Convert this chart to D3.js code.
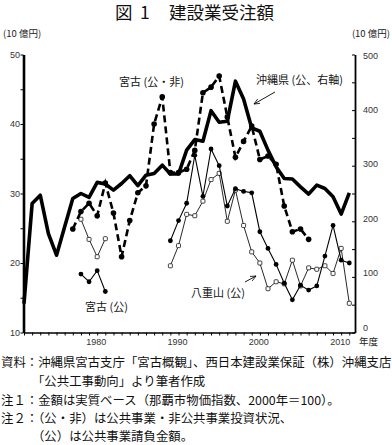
<!DOCTYPE html>
<html><head><meta charset="utf-8">
<script src="https://cdn.jsdelivr.net/npm/d3@7"></script>
<style>body{margin:0;background:#fff}svg{display:block}</style>
</head><body>
<svg id="c" width="392" height="445"></svg>
<script>
// ---------- data ----------
const years = [1971,1972,1973,1974,1975,1976,1977,1978,1979,1980,
  1981,1982,1983,1984,1985,1986,1987,1988,1989,1990,
  1991,1992,1993,1994,1995,1996,1997,1998,1999,2000,
  2001,2002,2003,2004,2005,2006,2007,2008,2009,2010,2011];
// 沖縄県（公、右軸）
const okinawaPublic = [52,232,247,178,139,190,241,250,243,270,
  267,256,268,282,264,283,286,301,285,285,
  328,347,344,399,378,380,452,420,368,362,
  328,298,277,276,262,249,265,259,244,213,251];
// 宮古（公・非）
const miyakoPublicNon = [null,null,null,null,null,null,24.9,27.4,28.6,26.8,
  31.5,27.2,20.9,26.1,30.1,31.1,40.0,43.9,33.0,33.0,
  33.5,36.2,44.5,45.3,46.9,41.0,35.2,37.5,39.7,34.9,
  35.4,34.2,28.2,24.5,24.9,23.4,null,null,null,null,null];
// 宮古（公）
const miyakoPublic = [null,null,null,null,null,null,null,18.4,17.3,18.9,
  15.9,null,null,null,null,null,null,null,23.2,26.1,
  28.6,35.5,29.6,36.4,34.0,28.2,30.7,30.3,30.1,24.5,
  22.1,19.8,17.1,14.7,16.8,16.1,16.7,21.0,25.4,20.4,20.0];
// 八重山（公）
const yaeyamaPublic = [null,null,null,null,null,null,null,26.3,23.4,20.9,
  23.5,null,null,null,null,null,null,null,19.6,22.5,
  27.0,26.8,28.9,32.0,32.9,26.0,30.5,25.4,21.6,20.0,
  16.3,17.3,17.0,20.4,16.7,19.3,19.1,19.6,18.5,22.1,14.2];
const leftTicks = [10,20,30,40,50];
const leftMinorTicks = [10,15,20,25,30,35,40,45,50];
const rightTicks = [0,100,200,300,400,500];
const rightMinorTicks = [0,50,100,150,200,250,300,350,400,450,500];
const xTickLabels = [1980,1990,2000,2010];
const notes = [
  "資料：沖縄県宮古支庁「宮古概観」、西日本建設業保証（株）沖縄支店",
  "　　　「公共工事動向」より筆者作成",
  "注１：金額は実質ベース（那覇市物価指数、2000年＝100）。",
  "注２：（公・非）は公共事業・非公共事業投資状況、",
  "　　　（公）は公共事業請負金額。"
];

// ---------- chart ----------
const svg = d3.select("#c");
const JP = "'Noto Sans CJK JP','Noto Sans',sans-serif";
const LAT = "'Liberation Sans',Arial,sans-serif";

const x = d3.scaleLinear().domain([1971, 2011.7]).range([24, 355]);
const yL = d3.scaleLinear().domain([10, 50]).range([332.5, 54.5]);
const yR = d3.scaleLinear().domain([0, 500]).range([332.5, 54.5]);
const yRlab = d3.scaleLinear().domain([0, 500]).range([330.5, 58.5]);

// title
svg.append("text").attr("x", 115).attr("y", 19).attr("font-family", JP)
  .attr("font-size", 17.5).attr("fill", "#111").text("図");
svg.append("text").attr("x", 140).attr("y", 19).attr("font-family", JP)
  .attr("font-size", 17.5).attr("fill", "#111").text("1");
svg.append("text").attr("x", 169).attr("y", 19).attr("font-family", JP)
  .attr("font-size", 17.5).attr("fill", "#111").text("建設業受注額");

// unit labels
svg.append("text").attr("x", 3).attr("y", 37).attr("font-family", JP)
  .attr("font-size", 9.5).attr("fill", "#222").text("(10 億円)");
svg.append("text").attr("x", 390).attr("y", 37).attr("text-anchor", "end").attr("font-family", JP)
  .attr("font-size", 9.5).attr("fill", "#222").text("(10 億円)");

// x axis
const xAxis = d3.axisBottom(x).tickValues(years).tickSize(3).tickSizeOuter(0).tickFormat("");
const gx = svg.append("g").attr("transform", `translate(0,${yL(10)})`).call(xAxis);
gx.select(".domain").attr("stroke", "#000").attr("stroke-width", 1.3);
gx.selectAll(".tick line").attr("stroke", "#000").attr("stroke-width", 1);
svg.append("g").selectAll("text").data(xTickLabels).join("text")
  .attr("x", d => x(d) - 1).attr("y", 344.5).attr("text-anchor", "middle")
  .attr("font-family", LAT).attr("font-size", 9).attr("fill", "#333").text(d => d);
svg.append("text").attr("x", 359).attr("y", 345).attr("font-family", JP)
  .attr("font-size", 9.5).attr("fill", "#222").text("年度");

// left axis
const gl = svg.append("g").attr("transform", `translate(${x(1971) - 0.5},0)`)
  .call(d3.axisLeft(yL).tickValues(leftMinorTicks).tickSize(3).tickSizeOuter(0).tickFormat(""));
gl.select(".domain").attr("stroke", "#000").attr("stroke-width", 2.6);
gl.selectAll(".tick line").attr("stroke", "#000").attr("stroke-width", 1);
svg.append("g").selectAll("text").data(leftTicks).join("text")
  .attr("x", 20).attr("y", d => yL(d) + 3).attr("text-anchor", "end")
  .attr("font-family", LAT).attr("font-size", 9).attr("fill", "#333").text(d => d);

// right axis
const gr = svg.append("g").attr("transform", `translate(${x(2011.7)},0)`)
  .call(d3.axisLeft(yR).tickValues(rightMinorTicks).tickSize(3).tickSizeOuter(0).tickFormat(""));
gr.select(".domain").attr("stroke", "#000").attr("stroke-width", 1.8);
gr.selectAll(".tick line").attr("stroke", "#000").attr("stroke-width", 1);
svg.append("g").selectAll("text").data(rightTicks).join("text")
  .attr("x", 363).attr("y", d => yRlab(d))
  .attr("font-family", LAT).attr("font-size", 9).attr("fill", "#333").text(d => d);

// helpers
const rows = (arr) => years.map((yr, i) => ({yr, v: arr[i]}));
const lineL = d3.line().defined(d => d.v != null).x(d => x(d.yr)).y(d => yL(d.v));
const lineR = d3.line().defined(d => d.v != null).x(d => x(d.yr)).y(d => yR(d.v));

// Yaeyama (public) thin + open squares
const yaeData = rows(yaeyamaPublic);
svg.append("path").datum(yaeData).attr("d", lineL).attr("fill", "none")
  .attr("stroke", "#111").attr("stroke-width", 0.9);
svg.append("g").selectAll("rect").data(yaeData.filter(d => d.v != null)).join("rect")
  .attr("x", d => x(d.yr) - 2).attr("y", d => yL(d.v) - 2).attr("width", 4).attr("height", 4)
  .attr("rx", 0.8).attr("fill", "#fff").attr("stroke", "#111").attr("stroke-width", 0.8);

// Miyako (public) thin + filled dots
const miyData = rows(miyakoPublic);
svg.append("path").datum(miyData).attr("d", lineL).attr("fill", "none")
  .attr("stroke", "#000").attr("stroke-width", 1.1);
svg.append("g").selectAll("circle").data(miyData.filter(d => d.v != null)).join("circle")
  .attr("cx", d => x(d.yr)).attr("cy", d => yL(d.v)).attr("r", 2.4).attr("fill", "#000");

// Miyako (public + non-public) dashed + dots
const mpnData = rows(miyakoPublicNon);
svg.append("path").datum(mpnData).attr("d", lineL).attr("fill", "none")
  .attr("stroke", "#000").attr("stroke-width", 2.6).attr("stroke-dasharray", "7,4");
svg.append("g").selectAll("circle").data(mpnData.filter(d => d.v != null)).join("circle")
  .attr("cx", d => x(d.yr)).attr("cy", d => yL(d.v)).attr("r", 2.8).attr("fill", "#000");

// Okinawa (public, right axis) thick
svg.append("path").datum(rows(okinawaPublic)).attr("d", lineR).attr("fill", "none")
  .attr("stroke", "#000").attr("stroke-width", 3.6).attr("stroke-linejoin", "round");

// annotations
const ann = (t, xx, yy) => svg.append("text").attr("x", xx).attr("y", yy)
  .attr("font-family", JP).attr("font-size", 11).attr("fill", "#111").text(t);
ann("宮古 (公・非)", 119, 86);
ann("沖縄県 (公、右軸)", 256, 84);
ann("宮古 (公)", 85, 311);
ann("八重山 (公)", 191, 297);

svg.append("defs").append("marker").attr("id", "ah").attr("viewBox", "0 0 10 10")
  .attr("refX", 9).attr("refY", 5).attr("markerWidth", 7).attr("markerHeight", 7)
  .attr("orient", "auto").append("path").attr("d", "M0,1 L9,5 L0,9")
  .attr("fill", "none").attr("stroke", "#000").attr("stroke-width", 1.2);
svg.append("line").attr("x1", 275).attr("y1", 92).attr("x2", 254).attr("y2", 104)
  .attr("stroke", "#000").attr("stroke-width", 0.9).attr("marker-end", "url(#ah)");
svg.append("line").attr("x1", 245).attr("y1", 282).attr("x2", 256).attr("y2", 276)
  .attr("stroke", "#000").attr("stroke-width", 0.9).attr("marker-end", "url(#ah)");

// notes
svg.append("g").selectAll("text").data(notes).join("text")
  .attr("x", 1).attr("y", (d, i) => [366.5, 386, 404.5, 423, 441][i])
  .attr("font-family", JP).attr("font-size", 12.4).attr("fill", "#111")
  .attr("xml:space", "preserve").style("white-space", "pre").text(d => d);
</script>
</body></html>
